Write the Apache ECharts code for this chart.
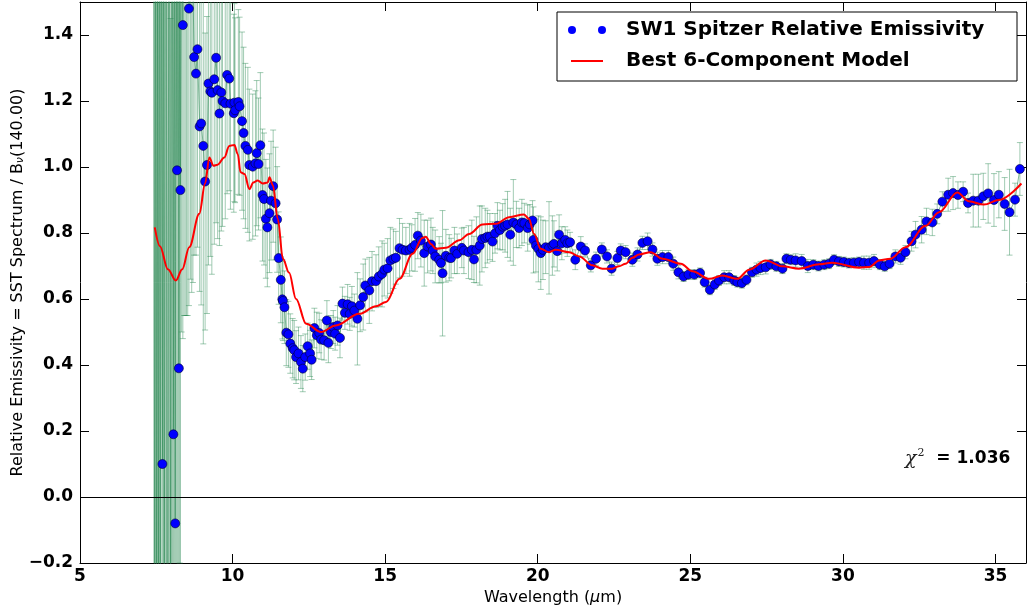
<!DOCTYPE html>
<html><head><meta charset="utf-8">
<script src="https://cdn.jsdelivr.net/npm/echarts@6.0.0/dist/echarts.min.js"></script>
<style>html,body{margin:0;padding:0;background:#fff}#c{width:1028px;height:612px}</style>
</head><body><div id="c"></div>
<script>
// ---- Data ----
const wavelength = [
 7.42,7.45,7.48,7.51,7.54,7.57,7.60,7.63,7.66,7.70,7.73,7.76,7.79,7.82,7.85,7.88,7.91,7.94,7.97,8.00,8.03,8.06,8.09,8.12,8.15,8.18,8.21,8.24,8.27,8.29,
 8.33,8.37,8.41,8.45,8.49,8.53,8.57,8.62,8.66,8.70,
 8.74,8.80,8.85,8.92,8.97,9.04,9.10,9.16,9.21,9.27,9.32,9.40,9.46,9.51,9.57,9.63,9.67,9.76,9.82,9.89,9.93,
 10.04,10.06,10.08,10.19,10.23,10.31,10.36,10.42,10.50,10.55,10.66,10.75,10.79,10.85,10.91,10.98,
 11.03,11.09,11.14,11.21,11.26,11.33,11.41,11.46,11.51,11.58,11.63,11.65,11.70,11.76,11.83,11.89,11.97,
 12.02,12.08,12.16,12.24,12.30,12.38,12.46,12.54,12.59,12.68,12.76,12.84,12.90,
 13.00,13.09,13.14,13.22,13.30,13.36,13.44,13.52,13.60,13.68,13.77,13.84,13.91,13.99,
 14.09,14.18,14.28,14.35,14.48,14.57,14.70,14.79,14.90,14.97,
 15.08,15.17,15.27,15.35,15.47,15.57,15.68,15.80,15.87,15.98,
 16.07,16.17,16.28,16.39,16.50,16.56,16.64,16.77,16.83,16.88,16.99,
 17.10,17.16,17.27,17.36,17.51,17.58,17.73,17.84,17.91,17.99,
 18.10,18.17,18.28,18.35,18.43,18.52,18.60,18.68,18.76,18.85,18.93,
 19.01,19.10,19.20,19.30,19.39,19.48,19.56,19.67,19.74,19.83,19.86,19.94,
 20.02,20.10,20.17,20.26,20.37,20.48,20.53,20.64,20.70,20.79,20.90,20.97,
 21.06,21.23,21.41,21.55,21.74,21.91,22.10,22.27,22.42,22.61,22.72,22.88,
 23.10,23.27,23.43,23.60,23.76,23.92,24.09,24.28,24.44,24.61,24.78,24.94,
 25.13,25.32,25.47,25.64,25.80,25.94,26.11,26.27,26.44,26.54,26.69,26.84,
 27.02,27.17,27.30,27.47,27.63,27.82,28.02,28.15,28.29,28.45,28.65,28.85,
 29.03,29.20,29.39,29.55,29.71,29.87,30.03,30.20,30.36,30.53,30.69,30.86,
 31.02,31.21,31.37,31.53,31.72,31.89,32.05,32.25,32.38,32.58,32.74,32.93,
 33.09,33.26,33.45,33.61,33.77,33.94,34.10,34.27,34.44,34.60,34.76,34.95,
 35.11,35.30,35.46,35.64,35.80
];
const emissivity = [
 1.90,-0.60,2.10,-0.40,1.70,-0.45,2.40,-0.60,1.90,0.10,2.30,-0.70,1.75,2.60,-0.35,-0.50,2.00,1.65,-0.55,2.30,1.60,0.19,2.10,-0.08,1.90,0.99,2.20,0.39,1.70,0.93,
 1.90,1.43,1.85,1.70,2.00,1.75,1.48,1.51,1.62,1.55,
 1.333,1.283,1.357,1.123,1.132,1.064,0.956,1.006,1.253,1.229,1.225,1.266,1.331,1.233,1.162,1.226,1.200,1.193,1.279,1.268,1.192,
 1.163,1.195,1.172,1.197,1.184,1.139,1.103,1.064,1.052,1.006,1.001,1.011,1.042,1.009,1.066,0.915,
 0.903,0.843,0.817,0.860,0.898,0.942,0.890,0.841,0.724,0.658,0.599,0.594,0.575,0.498,0.493,0.465,0.451,
 0.445,0.424,0.435,0.409,0.389,0.424,0.457,0.435,0.416,0.512,0.490,0.497,0.477,
 0.475,0.535,0.467,0.500,0.515,0.495,0.520,0.482,0.586,0.558,0.584,0.555,0.578,0.565,
 0.540,0.581,0.606,0.641,0.626,0.654,0.654,0.668,0.676,0.689,
 0.693,0.717,0.722,0.725,0.754,0.749,0.747,0.749,0.755,0.764,
 0.792,0.777,0.739,0.759,0.765,0.747,0.729,0.719,0.709,0.678,0.731,
 0.725,0.724,0.747,0.737,0.755,0.747,0.742,0.749,0.720,0.749,
 0.762,0.782,0.785,0.789,0.789,0.774,0.799,0.822,0.809,0.819,0.822,
 0.826,0.795,0.832,0.826,0.815,0.832,0.830,0.815,0.826,0.838,0.779,0.762,
 0.752,0.739,0.749,0.757,0.755,0.762,0.767,0.745,0.795,0.769,0.779,0.769,
 0.772,0.719,0.759,0.747,0.702,0.722,0.750,0.729,0.692,0.724,0.747,0.742,
 0.719,0.735,0.770,0.775,0.750,0.722,0.727,0.727,0.707,0.681,0.668,0.674,
 0.674,0.679,0.651,0.628,0.644,0.656,0.666,0.666,0.656,0.651,0.648,0.658,
 0.681,0.689,0.694,0.696,0.705,0.699,0.692,0.722,0.719,0.717,0.715,0.700,
 0.704,0.700,0.704,0.707,0.719,0.714,0.712,0.709,0.710,0.712,0.710,0.710,
 0.715,0.704,0.699,0.707,0.729,0.725,0.742,0.775,0.795,0.810,0.835,0.832,
 0.858,0.895,0.916,0.921,0.915,0.925,0.891,0.898,0.898,0.911,0.920,0.900,
 0.916,0.888,0.863,0.901,0.994
];
const emisError = [
 2.6,3.0,3.2,2.4,2.5,2.2,3.0,2.5,2.6,1.9,2.8,2.8,2.2,3.3,1.9,2.5,2.4,1.9,2.0,2.8,2.0,1.8,2.5,1.9,2.2,1.4,2.5,1.5,1.9,1.2,
 1.40,0.95,1.30,1.15,1.45,1.20,0.90,0.85,1.00,0.90,
 0.60,0.55,0.60,0.50,0.55,0.60,0.45,0.45,0.55,0.50,0.55,0.50,0.50,0.45,0.40,0.42,0.38,0.35,0.36,0.34,0.32,
 0.30,0.30,0.28,0.28,0.27,0.27,0.26,0.25,0.25,0.23,0.22,0.22,0.22,0.20,0.22,0.20,
 0.20,0.18,0.18,0.18,0.18,0.17,0.17,0.16,0.14,0.13,0.12,0.12,0.11,0.10,0.10,0.09,0.09,
 0.09,0.08,0.08,0.08,0.07,0.07,0.07,0.07,0.06,0.06,0.07,0.06,0.06,
 0.06,0.06,0.06,0.05,0.05,0.05,0.06,0.06,0.05,0.05,0.06,0.05,0.06,0.05,
 0.14,0.08,0.10,0.08,0.10,0.09,0.08,0.09,0.10,0.08,
 0.09,0.10,0.09,0.08,0.09,0.08,0.07,0.08,0.07,0.08,
 0.07,0.08,0.10,0.08,0.08,0.07,0.08,0.07,0.06,0.19,0.08,
 0.07,0.06,0.07,0.06,0.06,0.07,0.08,0.09,0.07,0.10,
 0.12,0.10,0.09,0.08,0.07,0.06,0.06,0.07,0.06,0.07,0.08,
 0.10,0.08,0.13,0.07,0.06,0.07,0.06,0.07,0.06,0.06,0.10,0.08,
 0.10,0.11,0.09,0.08,0.14,0.09,0.07,0.06,0.06,0.05,0.04,0.04,
 0.03,0.03,0.03,0.02,0.02,0.02,0.02,0.02,0.02,0.02,0.02,0.02,
 0.02,0.02,0.02,0.025,0.02,0.02,0.02,0.02,0.02,0.02,0.015,0.015,
 0.015,0.015,0.015,0.015,0.015,0.015,0.02,0.02,0.015,0.015,0.015,0.015,
 0.015,0.02,0.02,0.02,0.015,0.015,0.015,0.015,0.015,0.02,0.02,0.02,
 0.015,0.015,0.015,0.015,0.015,0.015,0.015,0.015,0.015,0.015,0.02,0.02,
 0.02,0.015,0.015,0.015,0.02,0.02,0.02,0.03,0.04,0.04,0.04,0.04,
 0.03,0.03,0.05,0.05,0.04,0.03,0.03,0.08,0.08,0.07,0.09,0.08,
 0.07,0.08,0.13,0.05,0.08
];
const modelWavelength = [
 7.45,7.62,7.88,8.14,8.35,8.58,8.91,9.10,9.24,9.37,9.51,9.73,9.89,10.06,10.17,10.26,10.39,10.55,10.68,10.82,10.99,
 11.15,11.21,11.32,11.48,11.65,11.85,12.08,12.41,12.90,13.38,14.15,14.70,15.03,15.47,15.90,16.22,16.33,16.50,16.66,16.99,
 17.43,17.75,18.19,18.63,19.06,19.55,19.71,19.88,20.10,20.37,20.59,21.03,21.36,21.79,22.12,22.44,22.66,22.88,23.10,23.32,
 23.70,24.09,24.69,25.07,25.62,26.05,26.54,26.93,27.47,28.02,28.56,29.22,29.65,30.53,30.86,31.19,31.56,32.05,32.71,33.15,
 33.75,34.13,34.62,35.11,35.85
];
const modelValue = [
 0.817,0.760,0.690,0.656,0.690,0.757,0.858,0.950,1.029,1.004,1.007,1.029,1.064,1.067,1.039,0.984,0.979,0.933,0.953,0.959,0.950,
 0.953,0.969,0.945,0.843,0.722,0.680,0.600,0.525,0.500,0.520,0.555,0.578,0.591,0.661,0.737,0.785,0.789,0.767,0.752,0.755,
 0.778,0.797,0.826,0.828,0.848,0.856,0.843,0.797,0.752,0.742,0.749,0.742,0.729,0.702,0.692,0.692,0.699,0.707,0.725,0.735,
 0.742,0.722,0.707,0.684,0.661,0.671,0.661,0.689,0.717,0.699,0.692,0.705,0.710,0.695,0.697,0.717,0.722,0.757,0.822,0.863,
 0.923,0.896,0.886,0.900,0.950
];
const xTickLabels = ['5','10','15','20','25','30','35'];
const yTickLabels = ['\u22120.2','0.0','0.2','0.4','0.6','0.8','1.0','1.2','1.4'];
const chiSquared = '1.036';

// ---- Build ----
const FONT = '"DejaVu Sans", sans-serif';
const pts = wavelength.map((w, i) => [w, emissivity[i], emisError[i]]);
const modelPts = modelWavelength.map((w, i) => [w, modelValue[i]]);
const errColor = 'rgba(46,139,87,0.45)';

function renderErr(params, api) {
  const cs = params.coordSys;
  const x = api.value(0), y = api.value(1), e = api.value(2);
  const p1 = api.coord([x, y + e]);
  const p2 = api.coord([x, y - e]);
  const top = cs.y, bottom = cs.y + cs.height;
  if (p1[0] < cs.x || p1[0] > cs.x + cs.width) return null;
  const yt = Math.max(p1[1], top), yb = Math.min(p2[1], bottom);
  if (yt >= yb) return null;
  const px = p1[0];
  const children = [{type: 'line', shape: {x1: px, y1: yt, x2: px, y2: yb}, style: {stroke: errColor, lineWidth: 1}}];
  if (p1[1] >= top) children.push({type: 'line', shape: {x1: px - 3, y1: p1[1], x2: px + 3, y2: p1[1]}, style: {stroke: errColor, lineWidth: 1}});
  if (p2[1] <= bottom) children.push({type: 'line', shape: {x1: px - 3, y1: p2[1], x2: px + 3, y2: p2[1]}, style: {stroke: errColor, lineWidth: 1}});
  return {type: 'group', children};
}

const yFmt = v => {
  const s = (v < -1e-9 ? '\u2212' : '') + Math.abs(v).toFixed(1);
  return yTickLabels.indexOf(s) >= 0 ? s : '';
};
const xFmt = v => { const s = String(Math.round(v)); return xTickLabels.indexOf(s) >= 0 ? s : ''; };

const axisCommon = {
  axisLine: {show: true, onZero: false, lineStyle: {color: '#000', width: 1}},
  axisTick: {show: true, inside: true, length: 9, lineStyle: {color: '#000', width: 1}},
  splitLine: {show: false}
};

const chart = echarts.init(document.getElementById('c'), null, {renderer: 'canvas'});
chart.setOption({
  animation: false,
  backgroundColor: '#fff',
  grid: {left: 80, right: 2, top: 2, bottom: 49, containLabel: false, outerBoundsMode: 'none'},
  xAxis: [
    Object.assign({type: 'value', min: 5, max: 36, interval: 5, position: 'bottom',
      name: 'Wavelength ({i|\u03bc}m)', nameLocation: 'middle', nameGap: 27, nameMoveOverlap: false,
      nameTextStyle: {fontSize: 16, fontFamily: FONT, color: '#000', rich: {i: {fontSize: 16, fontStyle: 'italic', fontFamily: FONT, color: '#000'}}},
      axisLabel: {show: true, formatter: xFmt, showMaxLabel: false, margin: 5, fontSize: 17, fontWeight: 'bold', fontFamily: FONT, color: '#000'}
    }, axisCommon),
    Object.assign({type: 'value', min: 5, max: 36, interval: 5, position: 'top', axisLabel: {show: false}}, axisCommon)
  ],
  yAxis: [
    Object.assign({type: 'value', min: -0.2, max: 1.5, interval: 0.2, position: 'left',
      name: 'Relative Emissivity = SST Spectrum / B{sub|\u03bd}(140.00)', nameLocation: 'middle', nameGap: 54, nameMoveOverlap: false,
      nameTextStyle: {fontSize: 16, fontFamily: FONT, color: '#000', rich: {sub: {fontSize: 11, fontStyle: 'italic', fontFamily: FONT, color: '#000', padding: [6, 0, 0, 0]}}},
      axisLabel: {show: true, formatter: yFmt, showMaxLabel: false, margin: 7, fontSize: 17, fontWeight: 'bold', fontFamily: FONT, color: '#000'}
    }, axisCommon),
    Object.assign({type: 'value', min: -0.2, max: 1.5, interval: 0.2, position: 'right', axisLabel: {show: false}}, axisCommon)
  ],
  series: [
    {
      type: 'custom', name: 'err', renderItem: renderErr, data: pts,
      encode: {x: 0, y: [1, 2]}, z: 1, silent: true,
      markLine: {silent: true, symbol: 'none', label: {show: false},
        lineStyle: {color: '#000', width: 1, type: 'solid'}, data: [{yAxis: 0}]}
    },
    {
      type: 'line', name: 'conn', data: pts.map(p => [p[0], p[1]]), showSymbol: false, clip: true,
      lineStyle: {color: 'rgba(46,139,87,0.6)', width: 1}, z: 2, silent: true
    },
    {
      type: 'scatter', name: 'SW1 Spitzer Relative Emissivity', data: pts.map(p => [p[0], p[1]]),
      symbolSize: 9, clip: true, z: 3,
      itemStyle: {color: '#0000ff', borderColor: '#000033', borderWidth: 0.6, opacity: 1}
    },
    {
      type: 'line', name: 'Best 6-Component Model', data: modelPts, showSymbol: false, smooth: 0.35,
      smoothMonotone: 'x', clip: true, lineStyle: {color: '#ff0000', width: 2}, z: 4
    }
  ],
  graphic: [
    {type: 'rect', z: 100, shape: {x: 557, y: 12, width: 460, height: 69}, style: {fill: '#fff', stroke: '#000', lineWidth: 1}},
    {type: 'circle', z: 101, shape: {cx: 572, cy: 30, r: 4}, style: {fill: '#0000ff'}},
    {type: 'circle', z: 101, shape: {cx: 602, cy: 30, r: 4}, style: {fill: '#0000ff'}},
    {type: 'line', z: 101, shape: {x1: 571, y1: 61, x2: 603, y2: 61}, style: {stroke: '#ff0000', lineWidth: 2}},
    {type: 'text', z: 101, x: 626, y: 30, style: {text: 'SW1 Spitzer Relative Emissivity', fontSize: 20, fontWeight: 'bold', fontFamily: FONT, fill: '#000', verticalAlign: 'middle', align: 'left'}},
    {type: 'text', z: 101, x: 626, y: 61, style: {text: 'Best 6-Component Model', fontSize: 20, fontWeight: 'bold', fontFamily: FONT, fill: '#000', verticalAlign: 'middle', align: 'left'}},
    {type: 'text', z: 101, x: 905, y: 459, style: {
      text: '{c|\u03c7}{s|2}{b|  = ' + chiSquared + '}', verticalAlign: 'middle', align: 'left',
      rich: {
        c: {fontSize: 19, fontStyle: 'italic', fontFamily: '"DejaVu Serif", serif', fill: '#222'},
        s: {fontSize: 11, fontFamily: '"DejaVu Serif", serif', fill: '#222', padding: [0, 0, 12, 1]},
        b: {fontSize: 17, fontWeight: 'bold', fontFamily: FONT, fill: '#000'}
      }}}
  ]
});
</script>
</body></html>
